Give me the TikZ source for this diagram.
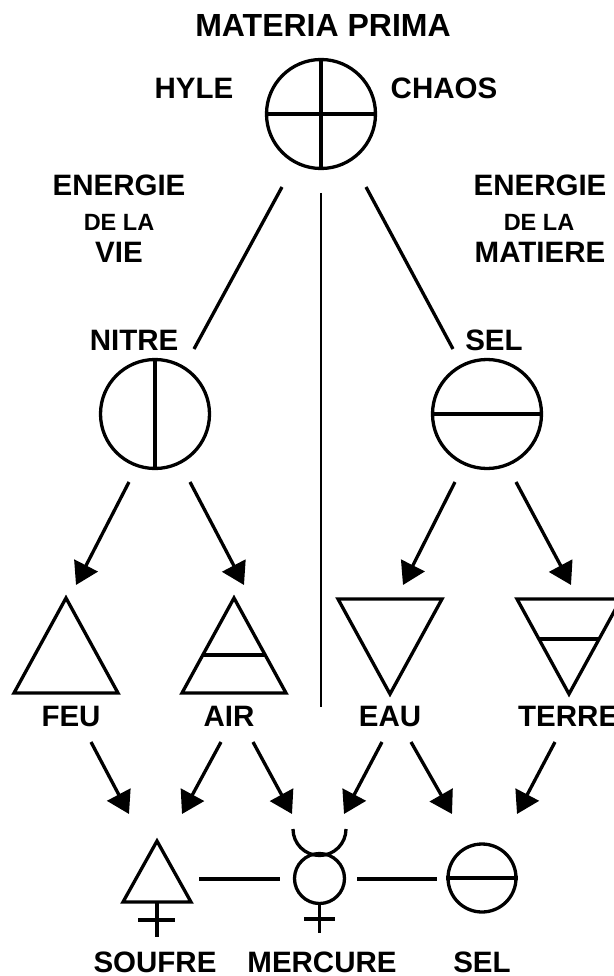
\documentclass[tikz,border=0pt]{standalone}
\usepackage{fontspec}
\setmainfont{Liberation Sans}
\usetikzlibrary{arrows.meta}
\usetikzlibrary{calc}
\tikzstyle{sym}=[line width=3.3pt]
\tikzstyle{thin}=[line width=1.8pt]
\tikzstyle{arr}=[line width=3.3pt, -{Triangle[length=22pt,width=26pt]}]
\tikzstyle{lbl}=[inner sep=0pt, font=\bfseries\fontsize{29.5}{30}\selectfont]
\tikzstyle{lblsmall}=[inner sep=0pt, font=\bfseries\fontsize{23.5}{24}\selectfont]
\tikzstyle{orb}=[circle, draw, line width=3.3pt, inner sep=0pt]
\newcommand{\elemW}{52}
\newcommand{\elemH}{95}
\newcommand{\elemup}[3]{
\coordinate (#1) at (#2,#3);
\coordinate (#1l) at ($(#1)+(-\elemW,\elemH)$);
\coordinate (#1r) at ($(#1)+(\elemW,\elemH)$);
\draw[sym] (#1) -- (#1l) -- (#1r) -- cycle;
}
\newcommand{\elemdown}[3]{
\coordinate (#1) at (#2,#3);
\coordinate (#1l) at ($(#1)+(-\elemW,-\elemH)$);
\coordinate (#1r) at ($(#1)+(\elemW,-\elemH)$);
\draw[sym] (#1) -- (#1l) -- (#1r) -- cycle;
}

\begin{document}
\begin{tikzpicture}[x=1pt,y=-1pt]
\useasboundingbox (0,0) rectangle (613,976);
% titles
\node[lbl, font=\bfseries\fontsize{32}{33}\selectfont] (tprima) at (323,25) {MATERIA PRIMA};
\node[lbl] (thyle) at (194,88) {HYLE};
\node[lbl] (tchaos) at (444,88) {CHAOS};
\node[lbl] (tevie1) at (119,185) {ENERGIE};
\node[lblsmall] (tevie2) at (119,222) {DE LA};
\node[lbl] (tevie3) at (119,252) {VIE};
\node[lbl] (temat1) at (540,185) {ENERGIE};
\node[lblsmall] (temat2) at (539,222) {DE LA};
\node[lbl] (temat3) at (540,252) {MATIERE};
\node[lbl] (tnitre) at (134,340) {NITRE};
\node[lbl] (tsel) at (494,340) {SEL};
\node[lbl] (tfeu) at (71,716) {FEU};
\node[lbl] (tair) at (229,716) {AIR};
\node[lbl] (teau) at (390,716) {EAU};
\node[lbl, anchor=west] (tterre) at (518,716) {TERRE};
\node[lbl] (tsoufre) at (155,962) {SOUFRE};
\node[lbl] (tmercure) at (322,962) {MERCURE};
\node[lbl] (tselb) at (482,962) {SEL};
% circles
\node[orb, minimum size=109pt] (prima) at (321,114) {};
\draw[sym] (prima.north) -- (prima.south);
\draw[sym] (prima.west) -- (prima.east);
\node[orb, minimum size=109pt] (nitre) at (155,414) {};
\draw[sym] (nitre.north) -- (nitre.south);
\node[orb, minimum size=109pt] (sel) at (487,414) {};
\draw[sym] (sel.west) -- (sel.east);
% elements
\elemup{feu}{66}{598}
\elemup{air}{234}{598}
\draw[sym] ($(air)!.6!(airl)$) -- ($(air)!.6!(airr)$);
\elemdown{eau}{390}{694}
\elemdown{terre}{569}{694}
\draw[sym] ($(terre)!.58!(terrel)$) -- ($(terre)!.58!(terrer)$);
% principles
\coordinate (soufre) at (157,841);
\coordinate (soufrel) at (123,902);
\coordinate (soufrer) at (191,902);
\coordinate (soufreb) at (157,902);
\draw[sym] (soufre) -- (soufrel) -- (soufrer) -- cycle;
\draw[sym] (soufreb) -- ++(0,35);
\draw[sym] (138,920) -- (175,920);
\node[orb, minimum size=50pt] (mercure) at (319.5,878.5) {};
\draw[sym] (293,829) arc[start angle=180, end angle=0, radius=26.5];
\draw[sym] (mercure.south) -- ++(0,28);
\draw[sym] (304,919) -- (335,919);
\node[orb, minimum size=68pt] (selb) at (482,878) {};
\draw[sym] (selb.west) -- (selb.east);
\coordinate (sm1) at (199,879);
\coordinate (sm2) at (280,879);
\coordinate (ms1) at (357,879);
\coordinate (ms2) at (437,879);
\draw[sym] (sm1) -- (sm2);
\draw[sym] (ms1) -- (ms2);
% connectors
\coordinate (pl) at (282,187);
\coordinate (pr) at (366,187);
\coordinate (pm) at (321,193);
\coordinate (nu) at (194,349);
\coordinate (su) at (453,349);
\coordinate (mid) at (321,707);
\draw[sym] (pl) -- (nu);
\draw[sym] (pr) -- (su);
\draw[thin] (pm) -- (mid);
\draw[arr] (129,482) -- (76,585);
\draw[arr] (190,482) -- (244,585);
\draw[arr] (455,482) -- (403,585);
\draw[arr] (516,482) -- (571,585);
\draw[arr] (91,742) -- (129,814);
\draw[arr] (221,742) -- (182,814);
\draw[arr] (253,742) -- (292,814);
\draw[arr] (382,742) -- (344,814);
\draw[arr] (411,742) -- (452,814);
\draw[arr] (555,742) -- (517,814);
\end{tikzpicture}
\end{document}
